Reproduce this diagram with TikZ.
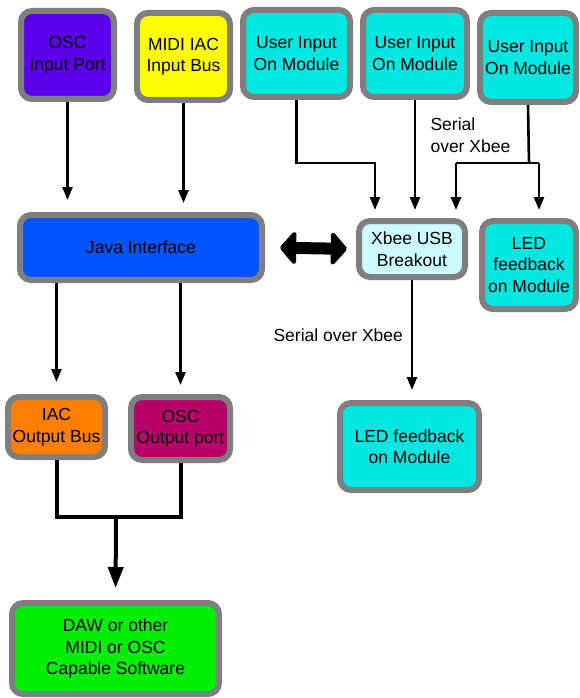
\documentclass[tikz,border=0pt]{standalone}
\usepackage{fontspec}
\setmainfont{Liberation Sans}
\usetikzlibrary{arrows.meta}

\definecolor{oscpurple}{RGB}{91,0,234}
\definecolor{iacyellow}{RGB}{255,255,0}
\definecolor{modcyan}{RGB}{0,230,224}
\definecolor{javablue}{RGB}{0,85,255}
\definecolor{xbeecyan}{RGB}{204,252,255}
\definecolor{iacorange}{RGB}{255,127,0}
\definecolor{oscmagenta}{RGB}{184,0,107}
\definecolor{dawgreen}{RGB}{0,238,0}
\definecolor{rimgray}{RGB}{127,127,127}

\begin{document}
\begin{tikzpicture}[x=1pt,y=-1pt,
  font=\fontsize{17.5}{21.5}\selectfont,
  box/.style={draw=rimgray,line width=6pt,rounded corners=11pt,align=center,inner sep=0pt},
  flow/.style={line width=2.6pt,-{Triangle[length=13pt,width=10pt]}},
  wire/.style={line width=2.6pt},
  fatwire/.style={line width=4pt}]
\useasboundingbox (0,0) rectangle (580,698);
% sources
\node[box,fill=oscpurple,minimum width=93,minimum height=88] (oscin) at (67.5,55) {OSC\\Input Port};
\node[box,fill=iacyellow,minimum width=93,minimum height=87] (midiin) at (183.5,56.5) {MIDI IAC\\Input Bus};
\node[box,fill=modcyan,minimum width=107,minimum height=87] (user1) at (296.5,53.5) {User Input\\On Module};
\node[box,fill=modcyan,minimum width=104,minimum height=87] (user2) at (415,53.5) {User Input\\On Module};
\node[box,fill=modcyan,minimum width=96,minimum height=89] (user3) at (528,57.5) {User Input\\On Module};
% middle row
\node[box,fill=javablue,minimum width=242,minimum height=65] (java) at (141,247.5) {Java Interface};
\node[box,fill=xbeecyan,minimum width=106,minimum height=56] (xbee) at (412,249) {Xbee USB\\Breakout};
\node[box,fill=modcyan,minimum width=94,minimum height=88] (ledr) at (529,265) {LED\\feedback\\on Module};
% outputs
\node[box,fill=iacorange,minimum width=97,minimum height=60] (iacout) at (56.5,427) {IAC\\Output Bus};
\node[box,fill=oscmagenta,minimum width=99,minimum height=63] (oscout) at (180.5,428.5) {OSC\\Output port};
\node[box,fill=modcyan,minimum width=139,minimum height=87] (ledb) at (409.5,446.5) {LED feedback\\on Module};
\node[box,fill=dawgreen,minimum width=207,minimum height=91] (daw) at (115.5,648.5) {DAW or other\\MIDI or OSC\\Capable Software};
% labels
\node[align=left,anchor=west] (serialtop) at (427,135) {Serial\\over Xbee};
\node[anchor=west] (serialbot) at (270,335) {Serial over Xbee};
% inputs into java
\draw[flow,shorten >=12pt] (oscin.south) -- (oscin.south |- java.north);
\draw[flow,shorten >=9pt] (midiin.south) -- (midiin.south |- java.north);
% java out
\draw[flow,shorten >=12pt] (iacout.north |- java.south) -- (iacout.north);
\draw[flow,shorten >=9pt] (oscout.north |- java.south) -- (oscout.north);
\coordinate (merge) at (116,517);
\draw[fatwire] (iacout.south) |- (merge) -| (oscout.south);
\draw[fatwire,-{Triangle[length=21pt,width=15pt]},shorten >=12pt] (merge) -- (daw.north);
% java <-> xbee
\draw[line width=12pt,{Triangle[length=17pt,width=38pt,round]}-{Triangle[length=17pt,width=38pt,round]},shorten <=15pt,shorten >=9pt] (java.east) -- (xbee.west);
% modules into xbee
\coordinate (bend1) at (375,163);
\coordinate (split) at (529,163);
\coordinate (tox) at (456,163);
\coordinate (tol) at (539,163);
\draw[flow,shorten >=8pt] (user1.south) |- (bend1) -- (bend1 |- xbee.north);
\draw[flow,shorten >=8pt] (user2.south) -- (user2.south |- xbee.north);
\draw[wire] (user3.south) -- (split);
\draw[wire] (tox) -- (tol);
\draw[flow,shorten >=8pt] (tox) -- (tox |- xbee.north);
\draw[flow,shorten >=8pt] (tol) -- (tol |- ledr.north);
% xbee to bottom module
\draw[flow,shorten >=10pt] (xbee.south) -- (xbee.south |- ledb.north);
\end{tikzpicture}
\end{document}
